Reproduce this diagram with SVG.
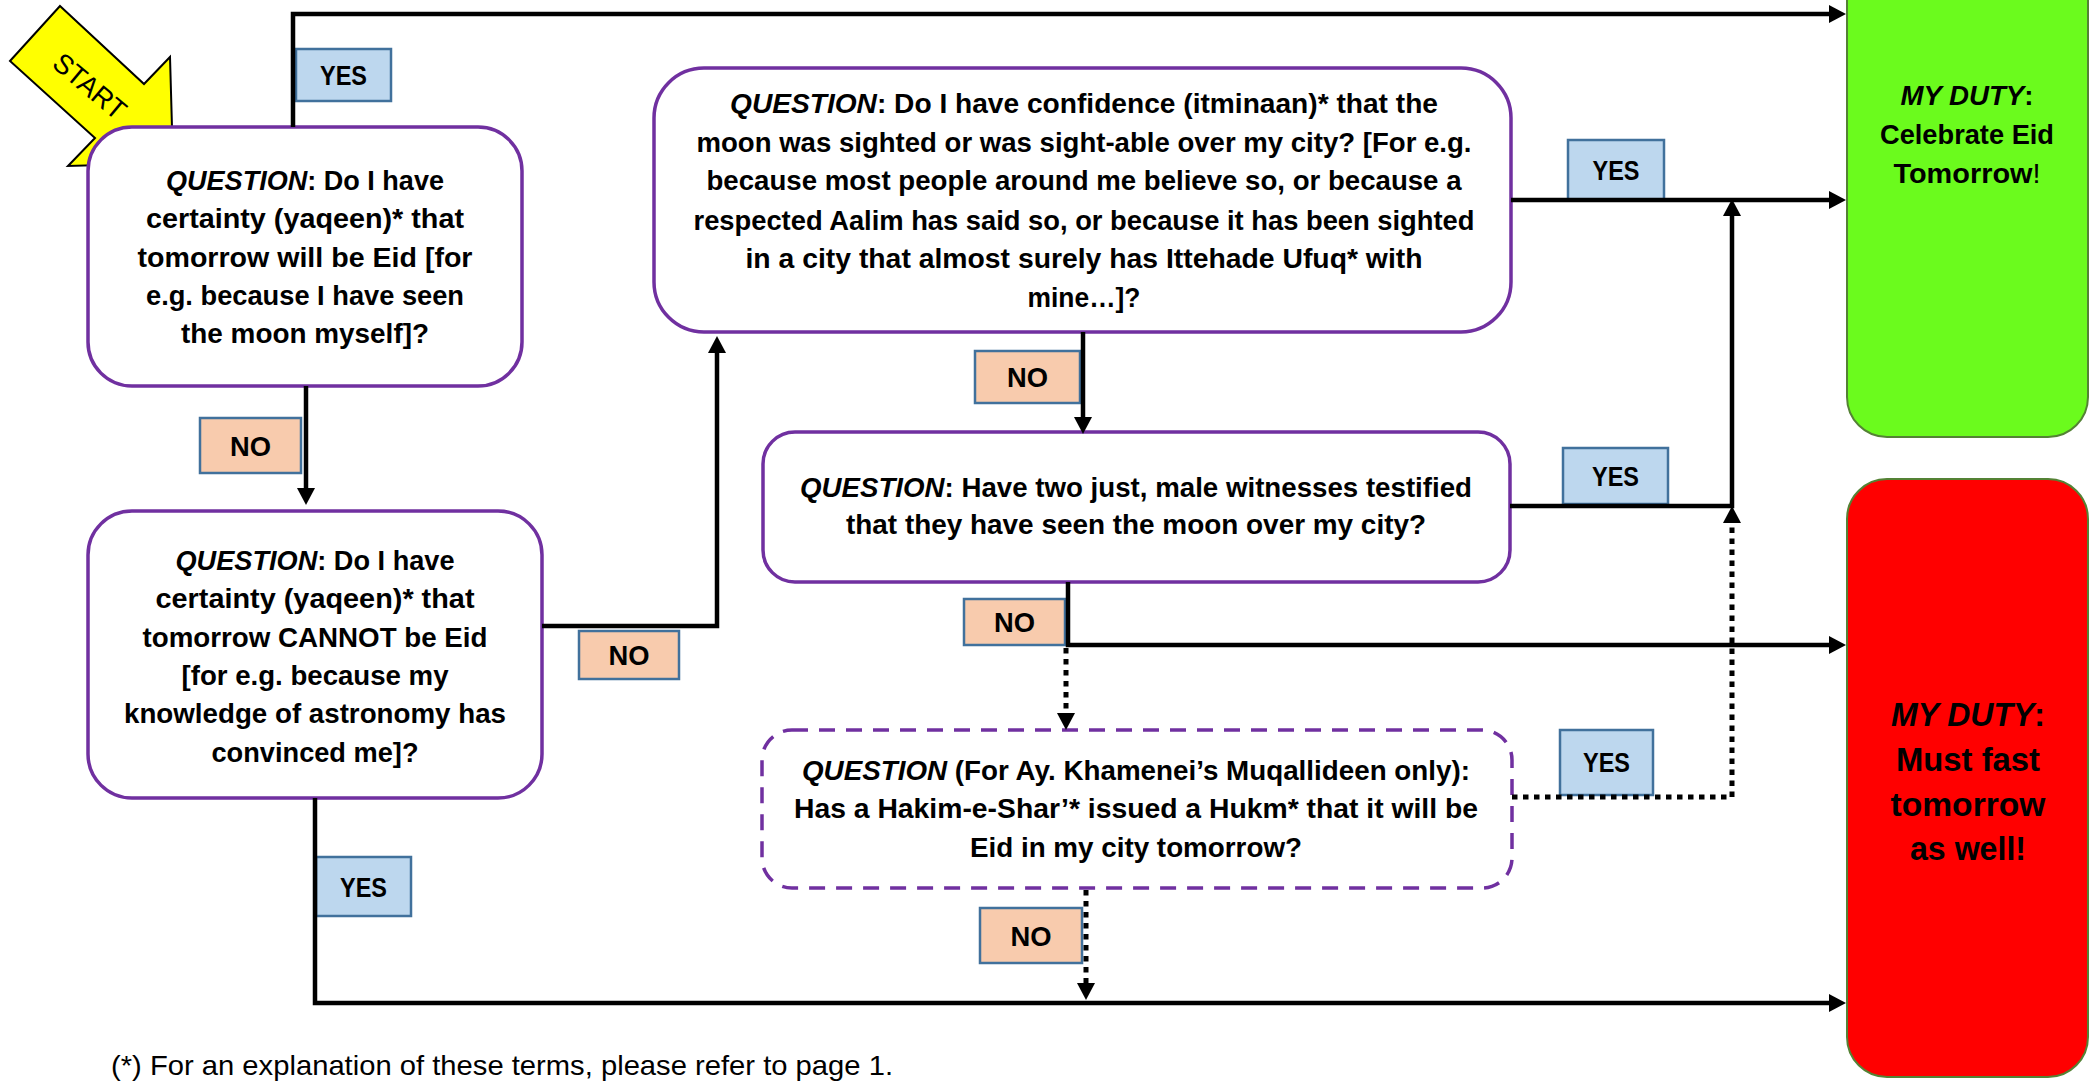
<svg xmlns="http://www.w3.org/2000/svg" width="2090" height="1081" viewBox="0 0 2090 1081">
<style>
.q{fill:#fff;stroke:#7030A0;stroke-width:3.5}
.qd{fill:#fff;stroke:#7030A0;stroke-width:3.5;stroke-dasharray:16 11}
.t{font-family:"Liberation Sans",Arial,sans-serif;font-weight:700;font-size:28.5px;text-anchor:middle;fill:#000}
.i{font-style:italic}
.n{font-weight:400}
.yes{fill:#BDD7EE;stroke:#41719C;stroke-width:2.5}
.no{fill:#F8CBAD;stroke:#41719C;stroke-width:2.5}
.lt{font-family:"Liberation Sans",Arial,sans-serif;font-weight:700;font-size:28px;text-anchor:middle;fill:#000}
.c{fill:none;stroke:#000;stroke-width:4.5}
.d{fill:none;stroke:#000;stroke-width:5;stroke-dasharray:5.5 5.5}
.big{font-size:32.5px}
</style>
<defs>
<marker id="ah" markerUnits="userSpaceOnUse" viewBox="0 0 17 18" refX="0" refY="9" markerWidth="17" markerHeight="18" orient="auto">
<path d="M0,0 L17,9 L0,18 z" fill="#000"/>
</marker>
</defs>

<g id="start">
<polygon points="60,6 144,84 170,57 173,163 68,166 95,138 10,61" fill="#FFFF00" stroke="#000" stroke-width="2"/>
<text transform="translate(90,86) rotate(40)" x="0" y="10" style="font-family:'Liberation Sans',Arial,sans-serif;font-size:28px;text-anchor:middle" textLength="86" lengthAdjust="spacingAndGlyphs">START</text>
</g>

<g id="q1">
<rect class="q" x="88" y="127" width="434" height="259" rx="44"/>
<text class="t" x="305" y="190" textLength="278" lengthAdjust="spacingAndGlyphs"><tspan class="i">QUESTION</tspan>: Do I have</text>
<text class="t" x="305" y="228" textLength="318" lengthAdjust="spacingAndGlyphs">certainty (yaqeen)* that</text>
<text class="t" x="305" y="267" textLength="335" lengthAdjust="spacingAndGlyphs">tomorrow will be Eid [for</text>
<text class="t" x="305" y="305" textLength="318" lengthAdjust="spacingAndGlyphs">e.g. because I have seen</text>
<text class="t" x="305" y="343" textLength="248" lengthAdjust="spacingAndGlyphs">the moon myself]?</text>
</g>

<g id="q2">
<rect class="q" x="88" y="511" width="454" height="287" rx="44"/>
<text class="t" x="315" y="570" textLength="279" lengthAdjust="spacingAndGlyphs"><tspan class="i">QUESTION</tspan>: Do I have</text>
<text class="t" x="315" y="608" textLength="319" lengthAdjust="spacingAndGlyphs">certainty (yaqeen)* that</text>
<text class="t" x="315" y="647" textLength="345" lengthAdjust="spacingAndGlyphs">tomorrow CANNOT be Eid</text>
<text class="t" x="315" y="685" textLength="267" lengthAdjust="spacingAndGlyphs">[for e.g. because my</text>
<text class="t" x="315" y="723" textLength="382" lengthAdjust="spacingAndGlyphs">knowledge of astronomy has</text>
<text class="t" x="315" y="762" textLength="207" lengthAdjust="spacingAndGlyphs">convinced me]?</text>
</g>

<g id="q3">
<rect class="q" x="654" y="68" width="857" height="264" rx="50"/>
<text class="t" x="1084" y="113" textLength="708" lengthAdjust="spacingAndGlyphs"><tspan class="i">QUESTION</tspan>: Do I have confidence (itminaan)* that the</text>
<text class="t" x="1084" y="152" textLength="775" lengthAdjust="spacingAndGlyphs">moon was sighted or was sight-able over my city? [For e.g.</text>
<text class="t" x="1084" y="190" textLength="755" lengthAdjust="spacingAndGlyphs">because most people around me believe so, or because a</text>
<text class="t" x="1084" y="230" textLength="781" lengthAdjust="spacingAndGlyphs">respected Aalim has said so, or because it has been sighted</text>
<text class="t" x="1084" y="268" textLength="677" lengthAdjust="spacingAndGlyphs">in a city that almost surely has Ittehade Ufuq* with</text>
<text class="t" x="1084" y="307" textLength="113" lengthAdjust="spacingAndGlyphs">mine…]?</text>
</g>

<g id="q4">
<rect class="q" x="763" y="432" width="747" height="150" rx="32"/>
<text class="t" x="1136" y="497" textLength="672" lengthAdjust="spacingAndGlyphs"><tspan class="i">QUESTION</tspan>: Have two just, male witnesses testified</text>
<text class="t" x="1136" y="534" textLength="580" lengthAdjust="spacingAndGlyphs">that they have seen the moon over my city?</text>
</g>

<g id="q5">
<rect class="qd" x="762" y="730" width="750" height="158" rx="30"/>
<text class="t" x="1136" y="780" textLength="668" lengthAdjust="spacingAndGlyphs"><tspan class="i">QUESTION</tspan> (For Ay. Khamenei’s Muqallideen only):</text>
<text class="t" x="1136" y="818" textLength="684" lengthAdjust="spacingAndGlyphs">Has a Hakim-e-Shar’* issued a Hukm* that it will be</text>
<text class="t" x="1136" y="857" textLength="332" lengthAdjust="spacingAndGlyphs">Eid in my city tomorrow?</text>
</g>

<g id="celebrate">
<rect x="1847" y="-40" width="241" height="477" rx="40" fill="#6BFB1D" stroke="#548235" stroke-width="2"/>
<text class="t" x="1967" y="105" textLength="133" lengthAdjust="spacingAndGlyphs"><tspan class="i">MY DUTY</tspan>:</text>
<text class="t" x="1967" y="144" textLength="174" lengthAdjust="spacingAndGlyphs">Celebrate Eid</text>
<text class="t" x="1967" y="183" textLength="147" lengthAdjust="spacingAndGlyphs">Tomorrow<tspan class="n">!</tspan></text>
</g>

<g id="fast">
<rect x="1847" y="479" width="241" height="598" rx="40" fill="#FF0000" stroke="#548235" stroke-width="2"/>
<text class="t big" x="1968" y="726" textLength="154" lengthAdjust="spacingAndGlyphs"><tspan class="i">MY DUTY</tspan>:</text>
<text class="t big" x="1968" y="771" textLength="144" lengthAdjust="spacingAndGlyphs">Must fast</text>
<text class="t big" x="1968" y="816" textLength="155" lengthAdjust="spacingAndGlyphs">tomorrow</text>
<text class="t big" x="1968" y="860" textLength="116" lengthAdjust="spacingAndGlyphs">as well!</text>
</g>

<g id="labels">
<g id="lbl-q1-yes"><rect class="yes" x="296" y="49" width="95" height="52"/><text class="lt" x="343.5" y="85" textLength="47" lengthAdjust="spacingAndGlyphs">YES</text></g>
<g id="lbl-q1-no"><rect class="no" x="200" y="418" width="101" height="55"/><text class="lt" x="250.5" y="456" textLength="41" lengthAdjust="spacingAndGlyphs">NO</text></g>
<g id="lbl-q2-no"><rect class="no" x="579" y="631" width="100" height="48"/><text class="lt" x="629" y="665" textLength="41" lengthAdjust="spacingAndGlyphs">NO</text></g>
<g id="lbl-q2-yes"><rect class="yes" x="316" y="857" width="95" height="59"/><text class="lt" x="363.5" y="897" textLength="47" lengthAdjust="spacingAndGlyphs">YES</text></g>
<g id="lbl-q3-no"><rect class="no" x="975" y="351" width="105" height="52"/><text class="lt" x="1027.5" y="387" textLength="41" lengthAdjust="spacingAndGlyphs">NO</text></g>
<g id="lbl-q3-yes"><rect class="yes" x="1568" y="140" width="96" height="60"/><text class="lt" x="1616" y="180" textLength="47" lengthAdjust="spacingAndGlyphs">YES</text></g>
<g id="lbl-q4-yes"><rect class="yes" x="1563" y="448" width="105" height="56"/><text class="lt" x="1615.5" y="486" textLength="47" lengthAdjust="spacingAndGlyphs">YES</text></g>
<g id="lbl-q4-no"><rect class="no" x="964" y="599" width="101" height="46"/><text class="lt" x="1014.5" y="632" textLength="41" lengthAdjust="spacingAndGlyphs">NO</text></g>
<g id="lbl-q5-yes"><rect class="yes" x="1560" y="730" width="93" height="65"/><text class="lt" x="1606.5" y="772" textLength="47" lengthAdjust="spacingAndGlyphs">YES</text></g>
<g id="lbl-q5-no"><rect class="no" x="980" y="908" width="102" height="55"/><text class="lt" x="1031" y="946" textLength="41" lengthAdjust="spacingAndGlyphs">NO</text></g>
</g>

<g id="connectors">
<path class="c" d="M293,127 V14 H1829" marker-end="url(#ah)"/>
<path class="c" d="M306,386 V488" marker-end="url(#ah)"/>
<path class="c" d="M542,626 H717 V353" marker-end="url(#ah)"/>
<path class="c" d="M1083,332 V417" marker-end="url(#ah)"/>
<path class="c" d="M1511,200 H1829" marker-end="url(#ah)"/>
<path class="c" d="M1510,506 H1732 V216" marker-end="url(#ah)"/>
<path class="c" d="M1068,582 V645 H1829" marker-end="url(#ah)"/>
<path class="c" d="M315,798 V1003 H1829" marker-end="url(#ah)"/>
<path class="d" d="M1066,648 V713" marker-end="url(#ah)"/>
<path class="d" d="M1512,797 H1732 V523" marker-end="url(#ah)"/>
<path class="d" d="M1086,890 V983" marker-end="url(#ah)"/>
</g>

<text x="111" y="1075" style="font-family:'Liberation Sans',Arial,sans-serif;font-size:28px;fill:#000" textLength="782" lengthAdjust="spacingAndGlyphs">(*) For an explanation of these terms, please refer to page 1.</text>
</svg>
